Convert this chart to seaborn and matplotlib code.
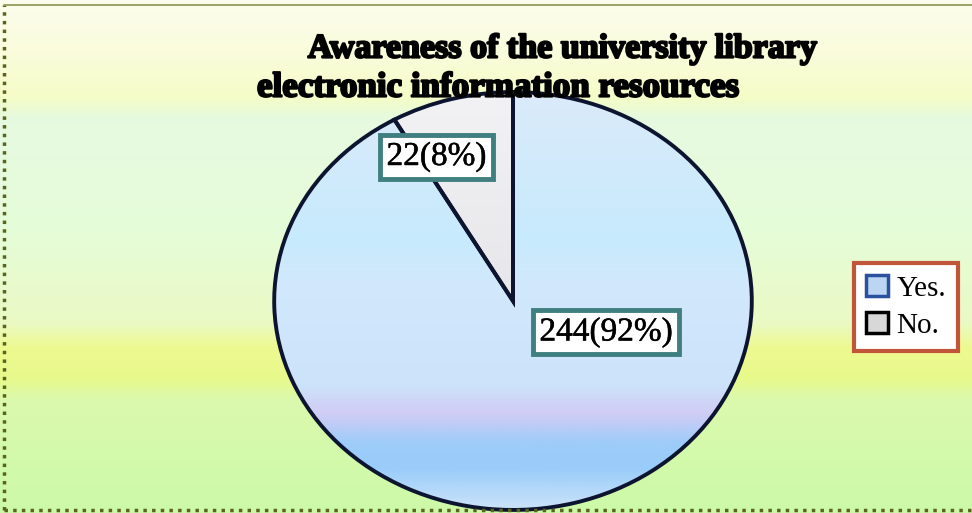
import numpy as np
import seaborn as sns
import matplotlib.pyplot as plt
import matplotlib.patheffects as pe
from matplotlib.colors import LinearSegmentedColormap
from matplotlib.patches import Patch
from matplotlib.lines import Line2D

# data
categories = ['Yes.', 'No.']
counts = [244, 22]
percents = [92, 8]
title_line1 = 'Awareness of the university library'
title_line2 = 'electronic information resources'

sns.set_style('white')
plt.rcParams['font.family'] = ['Liberation Serif', 'DejaVu Serif']
plt.rcParams['text.color'] = 'black'

fig = plt.figure(figsize=(9.72, 5.13), dpi=100)

# background gradient (top -> bottom)
bg = fig.add_axes([0, 0, 1, 1])
bg_cmap = LinearSegmentedColormap.from_list('bg', [
    (0.00, (0.99, 0.99, 0.93)),
    (0.10, (0.98, 0.99, 0.86)),
    (0.19, (0.96, 0.99, 0.78)),
    (0.23, (0.90, 0.98, 0.88)),
    (0.45, (0.90, 0.99, 0.85)),
    (0.63, (0.92, 0.98, 0.77)),
    (0.68, (0.93, 0.98, 0.56)),
    (0.74, (0.91, 0.98, 0.55)),
    (0.78, (0.86, 0.98, 0.68)),
    (1.00, (0.80, 0.98, 0.66)),
])
bg.imshow(np.linspace(0, 1, 256).reshape(-1, 1), cmap=bg_cmap, aspect='auto',
          extent=(0, 1, 0, 1))
bg.set_xlim(0, 1)
bg.set_ylim(0, 1)
bg.axis('off')

# pie (ellipse)
ax = fig.add_axes([273 / 972, 2 / 513, 480 / 972, 420 / 513])
wedges, _ = ax.pie(counts, startangle=90, counterclock=False,
                   colors=['none', 'none'],
                   wedgeprops=dict(edgecolor='#0d1430', linewidth=2.8))
ax.set_aspect('auto')
ax.set_xlim(-1.005, 1.005)
ax.set_ylim(-1.005, 1.005)

yes_cmap = LinearSegmentedColormap.from_list('yes', [
    (0.00, (0.86, 0.92, 0.98)),
    (0.35, (0.78, 0.92, 0.99)),
    (0.45, (0.82, 0.91, 0.99)),
    (0.70, (0.80, 0.89, 0.98)),
    (0.77, (0.82, 0.80, 0.96)),
    (0.84, (0.62, 0.80, 0.98)),
    (0.90, (0.60, 0.80, 0.98)),
    (1.00, (0.80, 0.89, 0.98)),
])
no_cmap = LinearSegmentedColormap.from_list('no', [
    (0.0, (0.95, 0.95, 0.96)),
    (1.0, (0.86, 0.85, 0.86)),
])
grad = np.linspace(0, 1, 256).reshape(-1, 1)
for w, cm in zip(wedges, [yes_cmap, no_cmap]):
    im = ax.imshow(grad, cmap=cm, aspect='auto', extent=(-1, 1, -1, 1), zorder=0)
    im.set_clip_path(w)
    w.set_zorder(2)

# value labels
label_pos = [(0.39, -0.15), (-0.32, 0.69)]
for (x, y), n, p in zip(label_pos, counts, percents):
    ax.text(x, y, f'{n}({p}%)', ha='center', va='center', fontsize=24,
            color='black', zorder=5,
            path_effects=[pe.withStroke(linewidth=0.35, foreground='black')],
            bbox=dict(boxstyle='square,pad=0.2', facecolor='white',
                      edgecolor='#3f7f7f', linewidth=3.5))

# title
heavy = [pe.withStroke(linewidth=1.6, foreground='black')]
fig.text(562 / 972, 1 - 49 / 513, title_line1, ha='center', va='center',
         fontsize=24.5, fontweight='bold', color='black', path_effects=heavy)
fig.text(257 / 972, 1 - 88 / 513, title_line2, ha='left', va='center',
         fontsize=25.2, fontweight='bold', color='black', path_effects=heavy)

# legend
handles = [
    Patch(facecolor='#bcd6f2', edgecolor='#2a50a0', linewidth=2.5),
    Patch(facecolor='#d8d8d8', edgecolor='black', linewidth=2.5),
]
leg = fig.legend(handles, categories, loc='center', bbox_to_anchor=(906 / 972, 1 - 307 / 513),
                 fontsize=21, frameon=True, fancybox=False, handlelength=0.75,
                 handleheight=0.75, handletextpad=0.3, borderpad=0.4, labelspacing=0.35,
                 borderaxespad=0)
leg.get_frame().set_edgecolor('#c0553a')
leg.get_frame().set_linewidth(3)
leg.get_frame().set_facecolor('white')
leg.get_frame().set_alpha(1)
for t in leg.get_texts():
    t.set_color('black')

# dotted border
fig.add_artist(Line2D([0.004, 0.004], [0.005, 0.99], transform=fig.transFigure,
                      color='#5a6420', linewidth=2.5, linestyle=(0, (1, 1.5))))
fig.add_artist(Line2D([0.004, 1], [0.005, 0.005], transform=fig.transFigure,
                      color='#5a6420', linewidth=2.5, linestyle=(0, (1, 1.5))))
fig.add_artist(Line2D([0.004, 1], [0.99, 0.99], transform=fig.transFigure,
                      color='#8a9450', linewidth=1.2))

fig.savefig('out.png', dpi=100)
